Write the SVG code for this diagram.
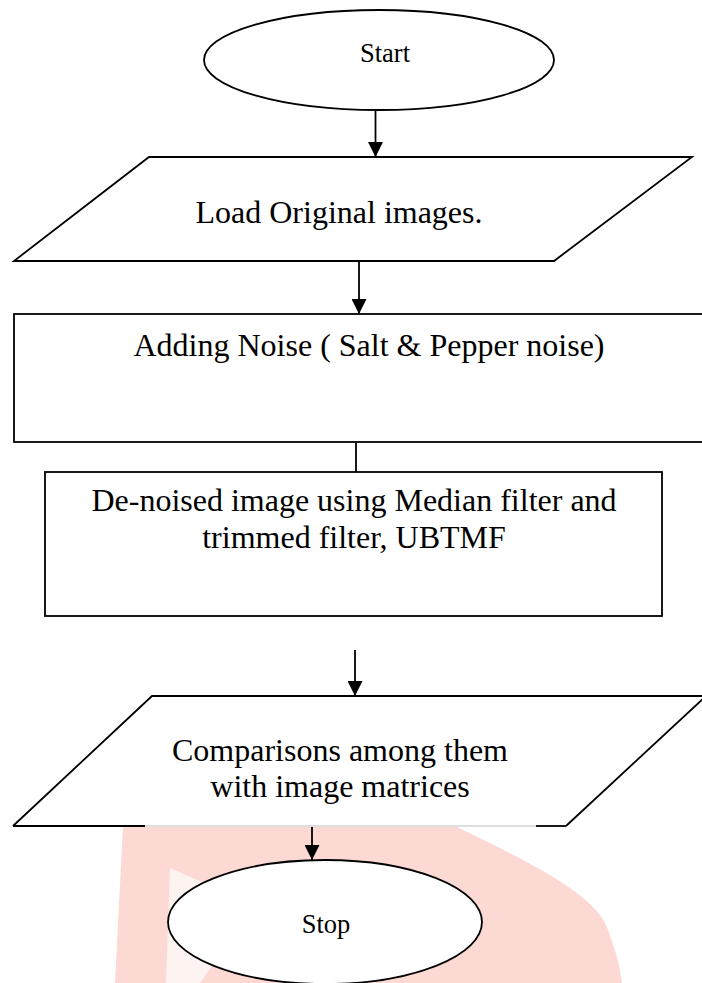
<svg xmlns="http://www.w3.org/2000/svg" width="702" height="983" viewBox="0 0 702 983">
  <defs>
    <style>
      .shape { fill: #ffffff; stroke: #000000; stroke-width: 1.8; }
      .edge { fill: none; stroke: #000000; stroke-width: 1.8; }
      .lbl { font-family: "Liberation Serif", "Times New Roman", serif; fill: #000000; text-anchor: middle; }
      .big { font-size: 32px; }
      .small { font-size: 26.5px; }
    </style>
    <marker id="ah" markerWidth="15" markerHeight="15" refX="15" refY="7.5" orient="auto" markerUnits="userSpaceOnUse">
      <path d="M0,0 L15,7.5 L0,15 Z" fill="#000000"/>
    </marker>
  </defs>
  <rect width="702" height="983" fill="#ffffff"/>

  <g id="watermark">
    <path d="M123,827 L457,827 C520,858 590,890 606,925 C614,945 620,965 622,983 L115,983 Z" fill="#fcd9d3"/>
    <path d="M170,868 L255,905 L200,983 L166,983 Z" fill="#fdf3f1"/>
  </g>

  <g id="start">
    <ellipse class="shape" cx="379" cy="60" rx="175" ry="50"/>
    <text class="lbl small" x="385" y="62">Start</text>
  </g>

  <g id="load">
    <polygon class="shape" points="149,157 692,157 554,261 14,261"/>
    <text class="lbl big" x="339" y="223">Load Original images.</text>
  </g>

  <g id="noise">
    <rect class="shape" x="14" y="314" width="720" height="128"/>
    <text class="lbl big" x="369" y="356">Adding Noise ( Salt &amp; Pepper noise)</text>
  </g>

  <g id="denoise">
    <rect class="shape" x="45" y="472" width="617" height="144"/>
    <text class="lbl big" x="354" y="511">De-noised image using Median filter and</text>
    <text class="lbl big" x="354" y="548">trimmed filter, UBTMF</text>
  </g>

  <g id="compare">
    <path d="M13,826 L152,696 L706,696 L566,826" fill="#ffffff" stroke="#000000" stroke-width="1.8" stroke-linejoin="miter"/>
    <line x1="13" y1="826" x2="145" y2="826" stroke="#000000" stroke-width="1.8"/>
    <line x1="145" y1="826" x2="536" y2="826" stroke="#bdbdbd" stroke-width="1"/>
    <line x1="536" y1="826" x2="566" y2="826" stroke="#000000" stroke-width="1.8"/>
    <text class="lbl big" x="340" y="761">Comparisons among them</text>
    <text class="lbl big" x="340" y="797">with image matrices</text>
  </g>

  <g id="stop">
    <ellipse class="shape" cx="325" cy="922" rx="157" ry="62"/>
    <text class="lbl small" x="326" y="933">Stop</text>
  </g>

  <g id="connectors">
    <line class="edge" x1="375.5" y1="111" x2="375.5" y2="157" marker-end="url(#ah)"/>
    <line class="edge" x1="359" y1="262" x2="359" y2="314" marker-end="url(#ah)"/>
    <line class="edge" x1="356" y1="443" x2="356" y2="472"/>
    <line class="edge" x1="355" y1="650" x2="355" y2="696" marker-end="url(#ah)"/>
    <line class="edge" x1="312" y1="827" x2="312" y2="860" marker-end="url(#ah)"/>
  </g>
</svg>
